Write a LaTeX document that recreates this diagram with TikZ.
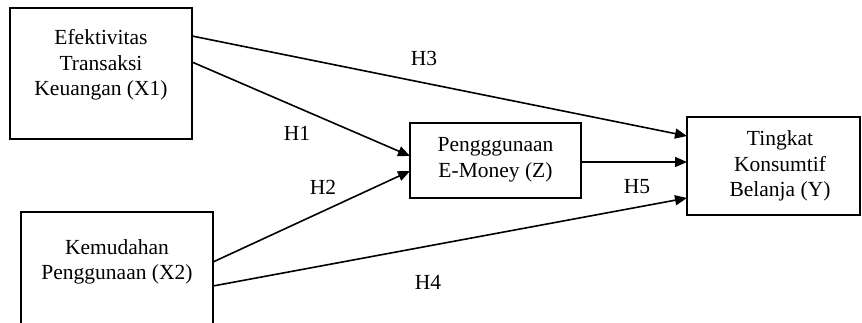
\documentclass[tikz,border=0pt]{standalone}
\usepackage{fontspec}
\setmainfont{Liberation Serif}
\usetikzlibrary{arrows.meta}
\begin{document}
\begin{tikzpicture}[x=1pt,y=-1pt,
  box/.style={draw,line width=1.6pt,inner sep=0pt},
  lbl/.style={font=\fontsize{21.5}{25.5}\selectfont,align=center},
  arr/.style={-{Triangle[length=12pt,width=10pt]},line width=1.6pt},
  hyp/.style={font=\fontsize{21.5}{24}\selectfont}]
\useasboundingbox (0,0) rectangle (862,322);
\begin{scope}
\clip (0,0) rectangle (862,322);
\node[box,minimum width=182pt,minimum height=131pt] (x1) at (101,73.5) {};
\node[box,minimum width=192pt,minimum height=130pt] (x2) at (117,277) {};
\node[box,minimum width=171pt,minimum height=75pt] (z) at (495.5,160.5) {};
\node[box,minimum width=173pt,minimum height=98pt] (y) at (773.5,166) {};
\end{scope}
\node[lbl] (t1) at (101,65) {Efektivitas\\Transaksi\\Keuangan (X1)};
\node[lbl] (t2) at (117,262) {Kemudahan\\Penggunaan (X2)};
\node[lbl] (tz) at (495.5,160) {Pengggunaan\\E-Money (Z)};
\node[lbl] (ty) at (780,166) {Tingkat\\Konsumtif\\Belanja (Y)};
\coordinate (a1) at (192,36);
\coordinate (a2) at (192,62);
\coordinate (b1) at (213,262);
\coordinate (b2) at (213,286);
\coordinate (zl1) at (410,156);
\coordinate (zl2) at (410,171);
\coordinate (zr) at (581,162);
\coordinate (y1) at (687,136);
\coordinate (y2) at (687,162);
\coordinate (y3) at (687,198);
\draw[arr] (a1) -- (y1);
\draw[arr] (a2) -- (zl1);
\draw[arr] (b1) -- (zl2);
\draw[arr] (zr) -- (y2);
\draw[arr] (b2) -- (y3);
\node[hyp] (h3) at (424,58) {H3};
\node[hyp] (h1) at (297,133) {H1};
\node[hyp] (h2) at (323,187) {H2};
\node[hyp] (h5) at (637,187) {H5};
\node[hyp] (h4) at (428,282) {H4};
\end{tikzpicture}
\end{document}
